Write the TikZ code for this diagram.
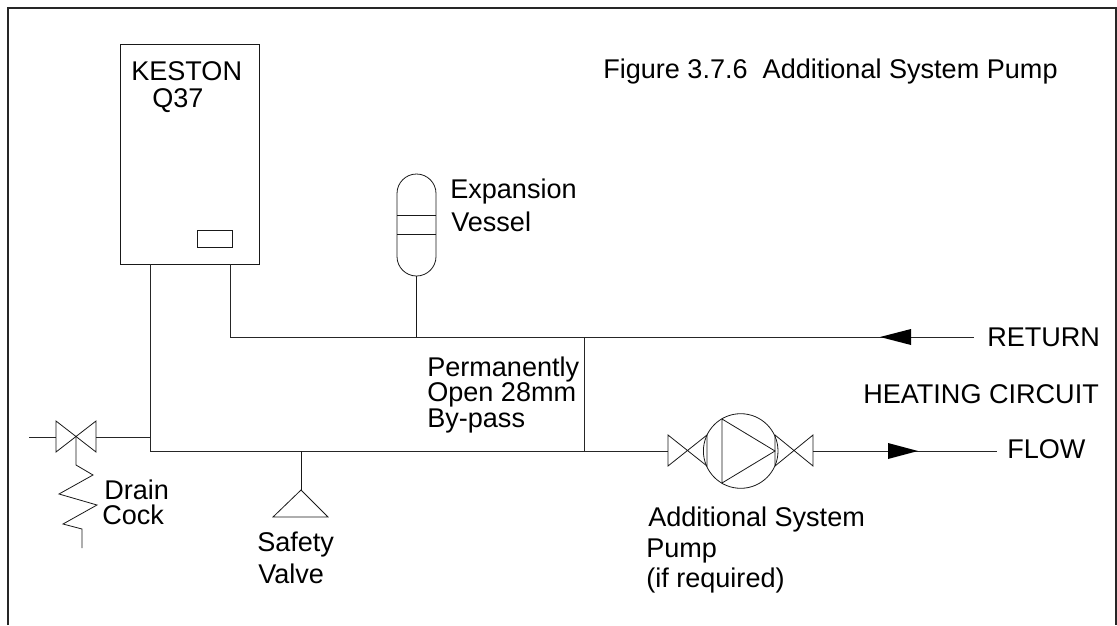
\documentclass[tikz,border=0pt]{standalone}
\usepackage{fontspec}
\setmainfont{Liberation Sans}
\tikzset{
  lbl/.style={anchor=base west,inner sep=0pt,font=\fontsize{20.3}{24}\selectfont,text=black},
  pipe/.style={draw=black!85,line width=0.75pt},
  sym/.style={draw=black!90,line width=0.6pt},
  frameline/.style={draw=black!85,line width=0.9pt},
  tip/.style={fill=black,draw=none}
}
\begin{document}
\begin{tikzpicture}[x=0.75pt,y=-0.75pt]
\useasboundingbox (0,0) rectangle (1117,625);
% frame
\coordinate (fbl) at (8,625); \coordinate (ftl) at (8,8); \coordinate (ftr) at (1116,8); \coordinate (fbr) at (1116,625);
\draw[frameline] (fbl) -- (ftl) -- (ftr) -- (fbr);
% boiler
\node[sym,draw,rectangle,minimum width=104.25pt,minimum height=165pt,inner sep=0pt,line width=0.75pt] (boiler) at (189.5,154) {};
\node[sym,draw,rectangle,minimum width=26.25pt,minimum height=12.75pt,inner sep=0pt] (panel) at (214.5,238.5) {};
% junction coordinates
\coordinate (flowout) at (150,264);
\coordinate (flowcorner) at (150,451);
\coordinate (retout) at (230,264);
\coordinate (retcorner) at (230,337);
\coordinate (retend) at (974,337);
\coordinate (vesseltee) at (416.5,337);
\coordinate (vesselbot) at (416.5,276);
\coordinate (bypasstop) at (584,337);
\coordinate (bypassbot) at (584,451);
\coordinate (safetytee) at (301,451);
\coordinate (safetyapex) at (301,490);
\coordinate (drainL) at (29,437);
\coordinate (drainLv) at (56,437);
\coordinate (drainRv) at (96,437);
\coordinate (drainT) at (150,437);
\coordinate (drainC) at (76,437);
\coordinate (drainZ) at (76,465);
\coordinate (pumpL) at (668,451);
\coordinate (pumpR) at (813,451);
\coordinate (flowend) at (997,451);
% pipes
\draw[pipe] (flowout) -- (flowcorner) -- (pumpL);
\draw[pipe] (retout) -- (retcorner) -- (retend);
\draw[sym] (vesselbot) -- (vesseltee);
\draw[pipe] (bypasstop) -- (bypassbot);
\draw[sym] (safetytee) -- (safetyapex);
\draw[pipe] (drainL) -- (drainLv);
\draw[pipe] (drainRv) -- (drainT);
\draw[pipe] (pumpR) -- (flowend);
% arrowheads
\fill[tip] (880,337) -- (911,329) -- (911,345) -- cycle;
\fill[tip] (918,451) -- (888,443) -- (888,459) -- cycle;
% expansion vessel
\draw[sym] (397,193.5) arc[start angle=180,end angle=0,x radius=19.5,y radius=-19.5]
  -- (436,256.5) arc[start angle=0,end angle=-180,x radius=19.5,y radius=-19.5] -- cycle;
\draw[sym] (397,215) -- (436,215) (397,234) -- (436,234);
% safety valve
\draw[sym] (safetyapex) -- (328,517) -- (273,517) -- cycle;
% drain valve
\draw[sym] (56,421) -- (96,452) -- (96,421) -- (56,452) -- cycle;
\draw[sym] (drainC) -- (drainZ) -- (93,475) -- (59,494) -- (97,505) -- (63,524) -- (82,529) -- (82,548);
% pump
\draw[sym] (740.7,451) circle[radius=37.3];
\draw[sym] (668,435) -- (707,466) -- (707,435) -- (668,466) -- cycle;
\draw[sym] (813,435) -- (775,466) -- (775,435) -- (813,466) -- cycle;
\draw[sym] (722,419) -- (775,451) -- (722,483) -- cycle;
% texts
\node[lbl] (t1) at (131,80) {KESTON};
\node[lbl] (t2) at (152,107) {Q37};
\node[lbl] (t3) at (603,78) {Figure 3.7.6\ \ Additional System Pump};
\node[lbl] (t4) at (450,198) {Expansion};
\node[lbl] (t5) at (451,231) {Vessel};
\node[lbl] (t6) at (427,376) {Permanently};
\node[lbl] (t7) at (427,401) {Open 28mm};
\node[lbl] (t8) at (427,427) {By-pass};
\node[lbl] (t9) at (987,346) {RETURN};
\node[lbl] (t10) at (863,403) {HEATING CIRCUIT};
\node[lbl] (t11) at (1007,458) {FLOW};
\node[lbl] (t12) at (104,499) {Drain};
\node[lbl] (t13) at (102,524) {Cock};
\node[lbl] (t14) at (257,551) {Safety};
\node[lbl] (t15) at (258,583) {Valve};
\node[lbl] (t16) at (648,526) {Additional System};
\node[lbl] (t17) at (646,557) {Pump};
\node[lbl] (t18) at (646,587) {(if required)};
\end{tikzpicture}
\end{document}
